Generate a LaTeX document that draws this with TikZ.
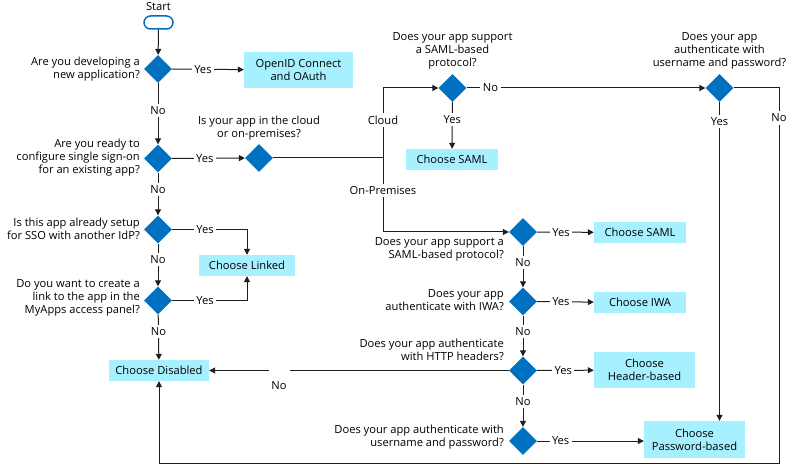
\documentclass[tikz,border=0pt]{standalone}
\usepackage{fontspec}
\setmainfont{Open Sans}
\usetikzlibrary{shapes.geometric,arrows.meta}
\definecolor{dblue}{RGB}{0,112,192}
\definecolor{lcyan}{RGB}{166,240,255}
\definecolor{lnc}{RGB}{30,30,30}
\begin{document}
\begin{tikzpicture}[x=1bp,y=-1bp,
 every node/.style={font=\fontsize{11.2}{13}\selectfont, inner sep=0pt},
 dec/.style={diamond, fill=dblue, minimum width=28bp, minimum height=28bp, inner sep=0pt},
 res/.style={fill=lcyan, align=center},
 q/.style={align=right, anchor=east},
 qc/.style={align=center},
 lbl/.style={fill=white, inner sep=2.5bp},
 ln/.style={draw=lnc, line width=1bp},
 arr/.style={ln, -{Triangle[length=6bp,width=6bp]}},
]
\useasboundingbox (0,0) rectangle (790,467);
% start
\node (starttxt) at (158.5,6.5) {Start};
\node[draw=dblue, line width=1.5bp, rounded corners=6.5bp, minimum width=29bp, minimum height=13bp, fill=white] (start) at (158.5,22.5) {};
% decisions
\node[dec] (d1) at (158,69) {};
\node[dec] (d2) at (158,158.5) {};
\node[dec] (d3) at (259,158) {};
\node[dec] (dsc) at (452.5,88) {};
\node[dec] (dup) at (719.5,88) {};
\node[dec] (d4) at (158,229.5) {};
\node[dec] (d5) at (158,300.5) {};
\node[dec] (dson) at (523,232) {};
\node[dec] (diwa) at (523,301.5) {};
\node[dec] (dhttp) at (523,370.5) {};
\node[dec] (dup2) at (523,441) {};
% results
\node[res, minimum width=109bp, minimum height=36bp] (openid) at (298.5,70) {OpenID Connect\\and OAuth};
\node[res, minimum width=92bp, minimum height=21bp] (csaml1) at (452,159.5) {Choose SAML};
\node[res, minimum width=96bp, minimum height=21bp] (linked) at (247,265.5) {Choose Linked};
\node[res, minimum width=100bp, minimum height=21bp] (disabled) at (159,370.5) {Choose Disabled};
\node[res, minimum width=92bp, minimum height=21bp] (csaml2) at (640,232.5) {Choose SAML};
\node[res, minimum width=92bp, minimum height=21bp] (ciwa) at (640,302.5) {Choose IWA};
\node[res, minimum width=101bp, minimum height=36bp] (chdr) at (644.5,370) {Choose\\Header-based};
\node[res, minimum width=101bp, minimum height=37bp] (cpw) at (694.5,439.5) {Choose\\Password-based};
% question texts
\node[q] (q1) at (140,69) {Are you developing a\\new application?};
\node[q] (q2) at (140,158) {Are you ready to\\configure single sign-on\\for an existing app?};
\node[q] (q4) at (140,228.5) {Is this app already setup\\for SSO with another IdP?};
\node[q] (q5) at (140,298) {Do you want to create a\\link to the app in the\\MyApps access panel?};
\node[qc] (q3) at (259,128.5) {Is your app in the cloud\\or on-premises?};
\node[qc] (qsc) at (452.5,51) {Does your app support\\a SAML-based\\protocol?};
\node[qc] (qup) at (719.5,51) {Does your app\\authenticate with\\username and password?};
\node[q] (qson) at (504,249.5) {Does your app support a\\SAML-based protocol?};
\node[q] (qiwa) at (504,300) {Does your app\\authenticate with IWA?};
\node[q] (qhttp) at (504,349.5) {Does your app authenticate\\with HTTP headers?};
\node[q] (qup2) at (504,437) {Does your app authenticate with\\username and password?};
% coordinates
\coordinate (jn) at (383,158);
\coordinate (c1) at (779,463);
\coordinate (g1) at (290,370.5);
\coordinate (g2) at (269,370.5);
% connectors
\draw[arr] (start) -- (d1);
\draw[arr] (d1) -- node[lbl,pos=0.43]{Yes} (openid);
\draw[arr] (d1) -- node[lbl,pos=0.45]{No} (d2);
\draw[arr] (d2) -- node[lbl,pos=0.45]{Yes} (d3);
\draw[ln] (d3) -- (jn);
\draw[arr] (jn) |- node[lbl,pos=0.27]{Cloud} (dsc);
\draw[arr] (jn) |- node[lbl,pos=0.22]{On-Premises} (dson);
\draw[arr] (dsc) -- node[lbl,pos=0.1]{No} (dup);
\draw[arr] (dsc) -- node[lbl,pos=0.38]{Yes} (csaml1);
\draw[arr] (dup) -- node[lbl,pos=0.06]{Yes} (dup |- cpw.north);
\draw[arr] (dup.east) -| node[lbl,pos=0.54]{No} (c1) -| (disabled.south);
\draw[arr] (d2) -- node[lbl,pos=0.4]{No} (d4);
\draw[arr] (d4) -- node[lbl,pos=0.38]{No} (d5);
\draw[arr] (d5) -- node[lbl,pos=0.37]{No} (disabled);
\draw[arr] (d4) -| node[lbl,pos=0.22]{Yes} (linked.north);
\draw[arr] (d5) -| node[lbl,pos=0.22]{Yes} (linked.south);
\draw[arr] (dson) -- node[lbl,pos=0.42]{Yes} (csaml2);
\draw[arr] (diwa) -- node[lbl,pos=0.42]{Yes} (ciwa);
\draw[arr] (dhttp) -- node[lbl,pos=0.46]{Yes} (chdr);
\draw[arr] (dup2) -- node[lbl,pos=0.22]{Yes} (dup2 -| cpw.west);
\draw[arr] (dson) -- node[lbl,pos=0.39]{No} (diwa);
\draw[arr] (diwa) -- node[lbl,pos=0.4]{No} (dhttp);
\draw[arr] (dhttp) -- node[lbl,pos=0.39]{No} (dup2);
\draw[ln] (dhttp) -- (g1);
\draw[arr] (g2) -- (disabled);
\node (nohttp) at (279,386) {No};
\end{tikzpicture}
\end{document}
